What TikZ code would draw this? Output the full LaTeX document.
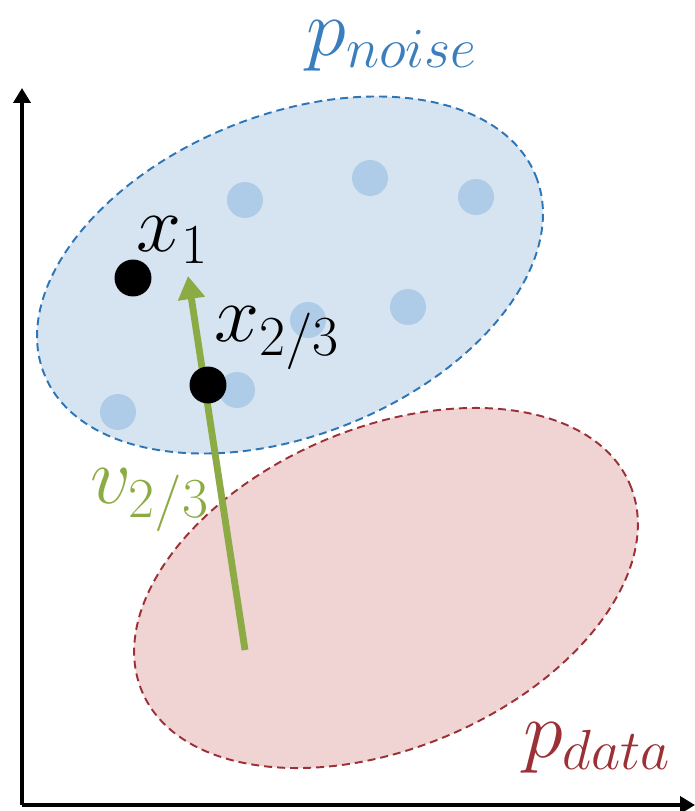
\documentclass[tikz,border=0pt]{standalone}
\usepackage{fix-cm}
\usepackage{amsmath}
\usepackage{xcolor}
\usepackage{tikz}
\usetikzlibrary{positioning,arrows.meta}

\definecolor{noiseblue}{HTML}{D6E4F1}
\definecolor{noiseline}{HTML}{2E75B6}
\definecolor{noisetext}{HTML}{3A7EBD}
\definecolor{sampleblue}{HTML}{AECCE7}
\definecolor{datared}{HTML}{F0D3D3}
\definecolor{dataline}{HTML}{9B3036}
\definecolor{flowgreen}{HTML}{8DAB45}

\begin{document}
\begin{tikzpicture}[x=0.02cm,y=-0.02cm,
    axis/.style={line width=2.3pt,-{Triangle[length=0.3cm,width=0.34cm]}},
    region/.style={line width=1.1pt,dash pattern=on 0.16cm off 0.1cm},
    sample/.style={circle,fill=sampleblue,inner sep=0pt,minimum size=0.72cm},
    point/.style={circle,fill=black,inner sep=0pt,minimum size=0.74cm},
    lbl/.style={inner sep=0pt,font=\fontsize{46}{50}\selectfont}]
    \useasboundingbox (0,0) rectangle (695,811);

    \coordinate (origin) at (22,805);
    \coordinate (ytop) at (22,88);
    \coordinate (xend) at (695,805);
    \draw[axis] (origin) -- (ytop);
    \draw[axis] (origin) -- (xend);

    \draw[region,draw=noiseline,fill=noiseblue,rotate around={22:(290,275)}]
        (290,275) ellipse [x radius=265,y radius=160];
    \draw[region,draw=dataline,fill=datared,rotate around={23:(386,588)}]
        (386,588) ellipse [x radius=265,y radius=160];

    \node[sample] (s1) at (245,200) {};
    \node[sample] (s2) at (370,178) {};
    \node[sample] (s3) at (476,197) {};
    \node[sample] (s4) at (308,320) {};
    \node[sample] (s5) at (408,307) {};
    \node[sample] (s6) at (237,390) {};
    \node[sample] (s7) at (118,412) {};

    \coordinate (vstart) at (245,650);
    \coordinate (vtip) at (188,276);
    \draw[flowgreen,line width=3.9pt,-{Triangle[length=0.46cm,width=0.52cm]}] (vstart) -- (vtip);

    \node[point] (x1) at (133,278) {};
    \node[point] (x23) at (208,385) {};

    \node[lbl] (x1lbl) at (172,240) {$x_1$};
    \node[lbl] (x23lbl) at (277,338) {$x_{2/3}$};
    \node[lbl,text=flowgreen] (vlbl) at (150,500) {$v_{2/3}$};
    \node[lbl,text=noisetext] (noiselbl) at (392,46) {$p_{noise}$};
    \node[lbl,text=dataline] (datalbl) at (597,748) {$p_{data}$};
\end{tikzpicture}
\end{document}
